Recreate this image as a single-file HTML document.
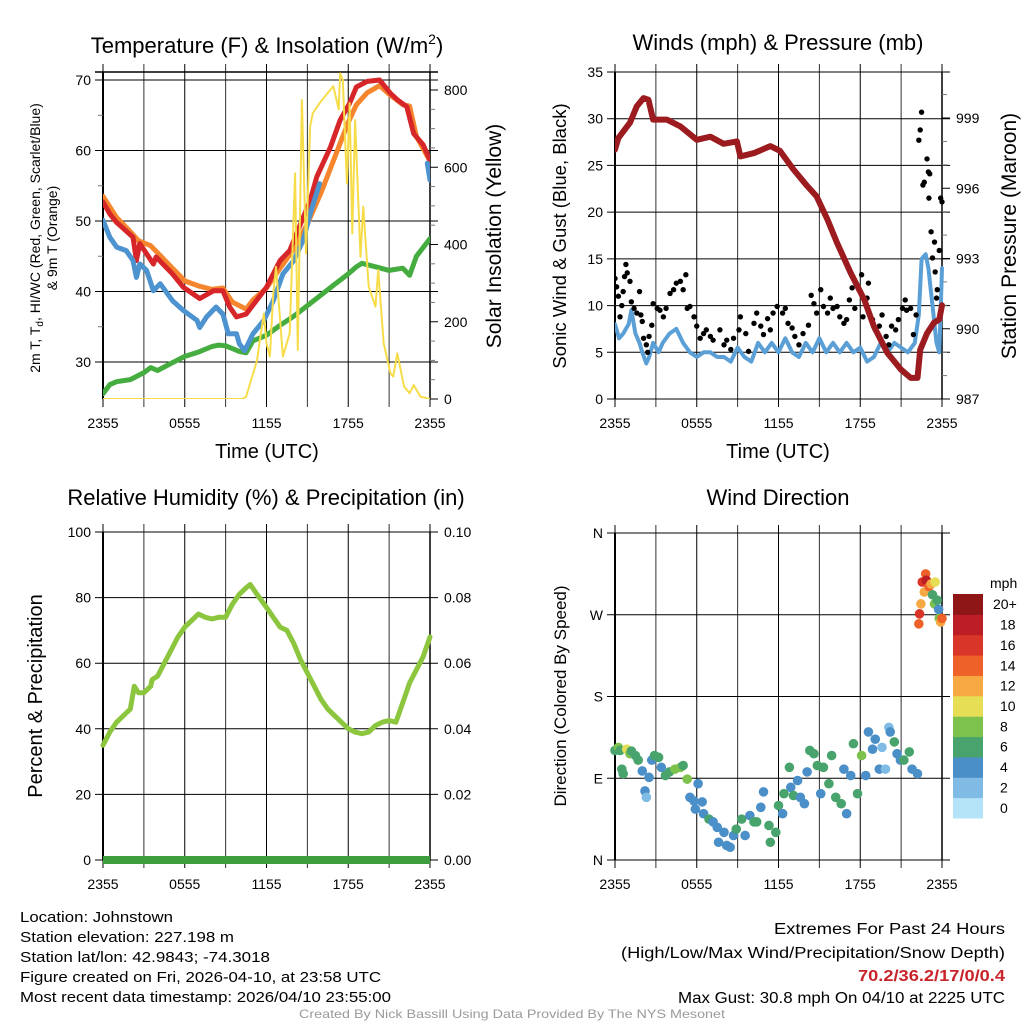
<!DOCTYPE html>
<html><head><meta charset="utf-8"><style>
html,body{margin:0;padding:0;background:#fff}
svg{display:block;font-family:"Liberation Sans",sans-serif}
</style></head><body>
<svg id="fig" width="1024" height="1024" viewBox="0 0 1024 1024">
<rect width="1024" height="1024" fill="#fff"/>
<text x="267" y="53" font-size="22" text-anchor="middle">Temperature (F) &amp; Insolation (W/m<tspan font-size="14" dy="-9">2</tspan><tspan dy="9">)</tspan></text>
<text x="778" y="50" font-size="22" text-anchor="middle">Winds (mph) &amp; Pressure (mb)</text>
<text x="266" y="505" font-size="22" text-anchor="middle">Relative Humidity (%) &amp; Precipitation (in)</text>
<text x="778" y="505" font-size="22" text-anchor="middle">Wind Direction</text>

<text transform="translate(40,238) rotate(-90)" font-size="14" text-anchor="middle">2m T, T<tspan font-size="10" dy="3">d</tspan><tspan dy="-3">, HI/WC (Red, Green, Scarlet/Blue)</tspan></text>
<text transform="translate(57,238) rotate(-90)" font-size="14" text-anchor="middle">&amp; 9m T (Orange)</text>
<text transform="translate(501,236) rotate(-90)" font-size="21" text-anchor="middle">Solar Insolation (Yellow)</text>
<text x="267" y="458" font-size="20" text-anchor="middle">Time (UTC)</text>
<text transform="translate(566,236) rotate(-90)" font-size="18.5" text-anchor="middle">Sonic Wind &amp; Gust (Blue, Black)</text>
<text transform="translate(1016,236) rotate(-90)" font-size="21" text-anchor="middle">Station Pressure (Maroon)</text>
<text x="778" y="458" font-size="20" text-anchor="middle">Time (UTC)</text>
<text transform="translate(42,696) rotate(-90)" font-size="20" text-anchor="middle">Percent &amp; Precipitation</text>
<text transform="translate(566,696) rotate(-90)" font-size="17" text-anchor="middle">Direction (Colored By Speed)</text>
<text x="990" y="588" font-size="14">mph</text>

<g font-size="15">
<text x="20" y="922" textLength="153" lengthAdjust="spacingAndGlyphs">Location: Johnstown</text>
<text x="20" y="942" textLength="214" lengthAdjust="spacingAndGlyphs">Station elevation: 227.198 m</text>
<text x="20" y="962" textLength="250" lengthAdjust="spacingAndGlyphs">Station lat/lon: 42.9843; -74.3018</text>
<text x="20" y="982" textLength="361" lengthAdjust="spacingAndGlyphs">Figure created on Fri, 2026-04-10, at 23:58 UTC</text>
<text x="20" y="1002" textLength="371" lengthAdjust="spacingAndGlyphs">Most recent data timestamp: 2026/04/10 23:55:00</text>
</g>
<g font-size="15.5" text-anchor="end">
<text x="1005" y="934" textLength="231" lengthAdjust="spacingAndGlyphs">Extremes For Past 24 Hours</text>
<text x="1005" y="958" textLength="384" lengthAdjust="spacingAndGlyphs">(High/Low/Max Wind/Precipitation/Snow Depth)</text>
<text x="1005" y="981" font-weight="bold" fill="#c8242a" textLength="147" lengthAdjust="spacingAndGlyphs">70.2/36.2/17/0/0.4</text>
<text x="1005" y="1003" textLength="327" lengthAdjust="spacingAndGlyphs">Max Gust: 30.8 mph On 04/10 at 2225 UTC</text>
</g>
<text x="512" y="1018" font-size="12" fill="#9a9a9a" text-anchor="middle" textLength="426" lengthAdjust="spacingAndGlyphs">Created By Nick Bassill Using Data Provided By The NYS Mesonet</text>
<g id="plots"></g>
</svg>
<script>
const timeTicks = ["2355","0555","1155","1755","2355"];
const tempTicks = [30,40,50,60,70];
const solarTicks = [0,200,400,600,800];
const windTicks = [0,5,10,15,20,25,30,35];
const presTicks = [987,990,993,996,999];
const rhTicks = [0,20,40,60,80,100];
const precipTickLabels = ["0.00","0.02","0.04","0.06","0.08","0.10"];
const dirTickLabels = ["N","E","S","W","N"];
const speedLabels = ["0","2","4","6","8","10","12","14","16","18","20+"];
const speedColors = ["#b5e4f8","#7fbbe4","#4a8fc8","#48a46c","#7cc24c","#e6df56","#f6a843","#ee6229","#da3529","#bd1d24","#8e1616"];

const tHours = [0,0.5,1,2.2,2.45,2.7,3.7,3.9,5.1,5.9,7.1,8.1,8.8,9.3,9.8,10.5,12,13,13.7,14.5,15.2,15.7,16.7,17.4,18.1,18.6,19.4,20.3,21.1,21.6,22.3,22.8,23.5,24];
const tempRed = [52.7,51,49.8,47.7,44.4,46.8,43.9,44.9,42.5,40.6,39,40.1,40.1,37.8,36.4,36.8,40.6,44.4,45.8,49.6,52.9,56.3,60.5,64.3,66.7,69,69.8,70,68.1,67.2,66.2,62.4,60.8,58.6];
const o9Hours = [0,1,2,2.6,3.5,4,5,6,7,8,8.8,9.5,10,10.5,11,12,13,14,15,16,17,18,18.6,19.4,20.3,21,22,22.5,23,24];
const temp9m = [53.5,50.5,48.5,47.2,46.5,45.5,43.5,41.5,40.8,40.3,40.5,38.5,38,37.5,38.8,40.5,43.3,46,49.6,54,59,64,66.5,68.2,69.2,68,66.5,66.3,62,58.5];
const wcHours = [0,0.5,1,1.7,2.2,2.45,2.7,3.2,3.7,4.2,5.1,5.9,6.9,7.1,7.6,8.3,8.8,9.2,9.8,10,10.4,11,11.8,12.5,13.2,14,14.7,15.2,15.9,16,23.7,23.8,24];
const windChill = [50.1,47.7,46.3,45.8,44.4,42,43.9,43,40.1,41.1,38.7,37.3,35.9,34.9,36.4,37.8,36.8,34,34,32.6,31.6,34,35.9,38.7,42.5,44.4,47.3,51,55.3,null,null,58.2,55.8];
const tdHours = [0,0.5,1,2,2.5,3,3.5,4,5,6,7,8,8.5,9,9.5,10,10.5,11,12,13,14,15,16,17,18,18.6,19,20,21,22,22.5,23,24];
const dewpoint = [25.5,26.8,27.2,27.5,28,28.5,29.2,28.8,29.8,30.8,31.4,32.2,32.4,32.3,31.9,31.5,31.3,33,33.8,35.2,36.5,38,39.5,41,42.5,43.5,44,43.5,43,43.3,42.3,45,47.5];
const solHours = [0,10.2,10.5,11.3,11.8,12,12.25,12.5,12.7,13.2,13.7,14.1,14.3,14.6,14.9,15.2,15.4,15.9,16.9,17.3,17.4,17.6,17.9,18.1,18.3,18.5,18.9,19.1,19.5,20,20.2,20.6,21.1,21.3,21.6,22.1,22.5,22.8,23.3,24];
const solar = [0,0,6,100,221,144,110,274,342,110,170,584,127,774,377,705,740,766,810,750,843,826,558,766,429,722,368,498,291,239,334,144,66,58,118,32,15,36,6,0];

const presHours = [0,0.25,1.1,1.6,2.1,2.45,2.8,3.8,4.8,6,7,7.97,8.95,9.2,10.2,11.4,12.1,13.1,14.1,14.8,15.6,16.3,17.3,18.3,19,20,21,21.7,22.2,22.4,22.9,23.4,23.8,24];
const pressure = [997.65,998.15,998.8,999.5,999.85,999.78,998.93,998.93,998.64,998.07,998.2,997.9,998,997.36,997.5,997.8,997.6,996.8,996.1,995.65,994.66,993.66,992.38,991.24,990.1,988.96,988.25,987.9,987.9,989.1,989.8,990.25,990.4,991];
const windHours = [0,0.3,0.6,1,1.2,1.5,1.8,2,2.3,2.5,2.8,3.2,3.5,4,4.5,5,5.5,6,6.5,7,7.5,8,8.5,9,9.5,10,10.5,11,11.5,12,12.5,13,13.5,14,14.5,15,15.5,16,16.5,17,17.5,18,18.5,19,19.5,20,20.5,21,21.5,22,22.3,22.5,22.8,23,23.3,23.6,23.8,24];
const windSpeed = [8,6.5,7,8,9.5,7,6,5,3.8,4.5,6,5,6,7,7.5,6,5,4.5,5,5,4.5,4.5,4,5.5,4.5,4,6,5,6,5,6.5,5,4.5,6,5,6.5,5,6,5,6,5,5.5,4,4.5,6,5,6,5.5,5,6,9,15,15.5,14,10,6,5,14];
const gustHours = [0,0.12,0.25,0.37,0.5,0.6,0.7,0.8,0.9,1.1,1.2,1.4,1.6,1.8,1.9,2,2.1,2.3,2.4,2.5,2.7,2.8,3.1,3.3,3.55,3.75,4.04,4.3,4.5,4.8,5,5.2,5.3,5.5,5.8,6,6.25,6.5,6.7,7,7.2,7.7,8,8.2,8.5,8.7,9.1,9.2,9.6,9.8,10.2,10.4,10.7,10.9,11.2,11.4,11.6,11.9,12.3,12.5,12.7,13,13.2,13.5,13.8,14.2,14.4,14.6,14.8,15.1,15.3,15.6,15.8,16,16.3,16.5,16.8,17,17.2,17.4,17.6,17.9,18.1,18.2,18.5,18.6,18.9,19.1,19.4,19.6,19.9,20.1,20.3,20.6,20.8,21.1,21.3,21.4,21.7,21.9,22.1,22.3,22.4,22.5,22.6,22.7,22.9,23,23.04,23.1,23.2,23.3,23.45,23.5,23.6,23.65,23.8,23.9,24];
const gustSpeed = [12.9,12,11,8.8,10,11.5,13.1,14.4,13.5,12.6,10.4,9.7,9.2,11.5,9,8.3,6.5,5.8,5,6.7,7.9,10.2,9.7,9.5,8.8,9.7,11.3,11.7,12.4,12.6,11.7,13.3,9.7,9.9,8.8,7.8,6.5,7,7.4,6.7,6.3,7.4,5.8,6.3,5.3,6.5,7.4,8.8,7,5.1,8.1,9.2,7.8,6.9,8.6,7.4,9.2,9.9,9.2,9.7,8.1,7.6,6.7,5.8,7,7.9,11.1,10.2,9.2,11.7,9.9,9.2,10.8,9.7,9.9,8.8,8.1,8.5,10.6,11.9,9.7,11.7,13.3,8.8,10.8,12.4,8.5,7.4,7.8,9,6.7,5.8,7.8,7.4,8.5,9.7,10.6,9.5,9.7,6.9,9,27.7,28.8,30.7,22.9,23.2,25.7,24.3,21.5,24.1,17.9,15.1,16.8,13.6,10.8,11.7,15.9,21.5,21.1];

const rhHours = [0,0.5,1,1.5,2,2.3,2.6,3,3.5,3.6,4,4.5,5,5.5,6,6.5,7,7.5,8,8.5,9,9.5,10,10.5,10.8,11.3,12,12.5,13,13.5,14,14.5,15,15.5,16,16.5,17,17.5,18,18.5,19,19.5,20,20.5,21,21.5,22,22.5,23,23.5,24];
const rhValues = [35,39,42,44,46,53,51,51,53,55,56,60,64,68,71,73,75,74,73.5,74,74,78,81,83,84,81,77,74,71,70,66,61,57,53,49,46,44,42,40,39,38.5,39,41,42,42.5,42,48,54,58,62,68];
const precipHours = [0,24];
const precipValues = [0,0];

const dirHours = [0,0.25,0.37,0.5,0.6,0.86,1.1,1.2,1.5,1.7,2,2.2,2.3,2.5,2.7,2.9,3.2,3.4,3.7,4,4.4,4.8,5,5.3,5.5,5.8,5.9,6.1,6.4,6.5,6.9,7.2,7.5,7.6,8,8.2,8.45,8.7,8.9,9.3,9.55,9.9,10.2,10.4,10.7,10.9,11.3,11.4,11.8,12,12.3,12.4,12.8,12.9,13.1,13.4,13.6,13.9,14.1,14.3,14.6,14.85,15.1,15.3,15.7,15.9,16.2,16.6,16.8,17,17.3,17.5,17.8,18.1,18.4,18.6,18.9,19.1,19.4,19.6,19.85,20.1,20.2,20.5,20.7,20.95,21.2,21.6,21.8,22.2,22.3,22.35,22.45,22.55,22.7,22.8,22.85,23.05,23.2,23.3,23.45,23.5,23.65,23.75,23.8,23.9,24];
const dirDegrees = [120.6,124,120.6,100,95,122,117,120,115,110,98,76,69,91,110,115,113,102,93,97,100,102,104,89,69,65,56,84,64,51,45,42,36,19.5,30.5,16,14,27,34,45,27,49,42,42,58,75,38,19.5,30.5,60,51,73,102,80,71,87.5,69,62,97,120.6,117,104,73,102,84,115,69,62,100,51,93,128,73,115,93,141,122,133,100,124,100,146,141,130,117,110,110,119,100,95,260,271,282,306,295,315,308,301,304,292,282,306,286,276,266,262,266];
const dirSpeed = [7,8.5,7,7,7,10.5,8.5,7,7,7,5,5,3,5,5,7,7,5,7,7,8.5,8.5,7,8.5,5,5,5,5,5,5,7,5,5,5,5,5,5,5,7,7,5,5,7,7,5,5,7,7,7,7,5,7,7,5,7,5,5,5,5,7,7,7,5,7,7,7,7,7,5,5,5,7,7,8.5,5,5,5,5,5,3,3,3,5,7,5,5,7,7,5,5,15,17,13,17,13,15,19,15,13,7,8.5,10.5,7,5,8.5,13,15];

const NS = "http://www.w3.org/2000/svg";
const root = document.getElementById("plots");
function mk(tag, attrs, parent){ const e=document.createElementNS(NS,tag); for(const k in attrs) e.setAttribute(k,attrs[k]); (parent||root).appendChild(e); return e; }
function lin(d0,d1,r0,r1){ return v => r0+(v-d0)*(r1-r0)/(d1-d0); }
function pathD(xs,ys,fx,fy){ let d="",pen=false; for(let i=0;i<xs.length;i++){ if(ys[i]==null){pen=false;continue;} d+=(pen?"L":"M")+fx(xs[i]).toFixed(1)+","+fy(ys[i]).toFixed(1); pen=true;} return d; }

function frame(name,L,R,T,B,fxh){
  const g=mk("g",{});
  
  
  for(let h=0;h<=24;h+=3){
    const x=fxh(h);
    const ln=mk("line",{x1:x,x2:x,y1:T-8,y2:B+8,stroke:(h%6==0?"#000":"#333"),"stroke-width":1},g);
    
    
  }
  timeTicks.forEach((lab,i)=>{
    const t=mk("text",{x:fxh(i*6),y:B+29,"font-size":14,"text-anchor":"middle"},g); t.textContent=lab;
    
    
  });
  mk("line",{x1:L,x2:L,y1:T,y2:B,stroke:"#000","stroke-width":2},g);
  mk("line",{x1:R,x2:R,y1:T,y2:B,stroke:"#000","stroke-width":1.5},g);
  return g;
}
function hgrid(g,ys,labels,L,R,side,size){
  ys.forEach((y,i)=>{
    const ln=mk("line",{x1:L-8,x2:R+8,y1:y,y2:y,stroke:"#000","stroke-width":1},g);
    
    
    const t=mk("text",{x:side=="l"?L-12:R+14,y:y+5,"font-size":size||14,"text-anchor":side=="l"?"end":"start"},g); t.textContent=labels[i];
    
    
  });
}
function minor(g,ys,x,dir){ ys.forEach(y=>mk("line",{x1:x,x2:x+dir*5,y1:y,y2:y,stroke:"#777","stroke-width":1},g)); }

// ---- Panel 1: Temperature
(function(){
  const L=103,R=430,T=72,B=399;
  const fx=lin(0,24,L,R), fy=lin(70,30,80,362), fs=lin(0,800,399,90);
  const g=frame("temperature",L,R,T,B,fx);
  mk("line",{x1:L-8,x2:R+8,y1:T,y2:T,stroke:"#000","stroke-width":1.5},g);
  hgrid(g,tempTicks.map(fy),tempTicks,L,R,"l",14);
  solarTicks.forEach(v=>{ const t=mk("text",{x:R+14,y:fs(v)+5,"font-size":14},g); t.textContent=v;
    
    
    mk("line",{x1:R,x2:R+8,y1:fs(v),y2:fs(v),stroke:"#000"},g); });
  minor(g,[35,45,55,65].map(fy),L,-1);
  minor(g,[50,100,150,250,300,350,450,500,550,650,700,750].map(fs),R,1);
  const clip=mk("clipPath",{id:"c1"}); mk("rect",{x:L,y:T,width:R-L,height:B-T},clip);
  const s=mk("g",{"clip-path":"url(#c1)","stroke-linejoin":"round","stroke-linecap":"round",fill:"none"});
  const p1=mk("path",{d:pathD(tdHours,dewpoint,fx,fy),stroke:"#45ad3f","stroke-width":5},s);
   
  const p2=mk("path",{d:pathD(o9Hours,temp9m,fx,fy),stroke:"#f5862e","stroke-width":5},s);
   
  const p3=mk("path",{d:pathD(tHours,tempRed,fx,fy),stroke:"#d7262a","stroke-width":5},s);
   
  const p4=mk("path",{d:pathD(wcHours,windChill,fx,fy),stroke:"#4c93cf","stroke-width":5},s);
   
  const p5=mk("path",{d:pathD(solHours,solar,fx,fs),stroke:"#f7dc4a","stroke-width":2},s);
   
})();

// ---- Panel 2: Winds & Pressure
(function(){
  const L=615,R=942,T=72,B=399;
  const fx=lin(0,24,L,R), fy=lin(0,35,399,72), fp=lin(987,999,399,118);
  const g=frame("winds",L,R,T,B,fx);
  hgrid(g,windTicks.map(fy),windTicks,L,R,"l",14);
  presTicks.forEach(v=>{ const t=mk("text",{x:R+14,y:fp(v)+5,"font-size":14},g); t.textContent=v;
    
    
    mk("line",{x1:R,x2:R+8,y1:fp(v),y2:fp(v),stroke:"#000"},g); });
  minor(g,[988,989,991,992,994,995,997,998,1000].map(fp),R,1);
  const clip=mk("clipPath",{id:"c2"}); mk("rect",{x:L,y:T,width:R-L+4,height:B-T},clip);
  const s=mk("g",{"clip-path":"url(#c2)","stroke-linejoin":"round","stroke-linecap":"round",fill:"none"});
  const w=mk("path",{d:pathD(windHours,windSpeed,fx,fy),stroke:"#5a9fd6","stroke-width":4},s);
   
  gustHours.forEach((h,i)=>{ const c=mk("circle",{cx:fx(h),cy:fy(gustSpeed[i]),r:2.7,fill:"#000"},s);
      });
  const p=mk("path",{d:pathD(presHours,pressure,fx,fp),stroke:"#9b1b1e","stroke-width":6},s);
   
})();

// ---- Panel 3: RH & Precip
(function(){
  const L=103,R=430,T=532,B=860;
  const fx=lin(0,24,L,R), fy=lin(0,100,860,532), fq=lin(0,0.1,860,532);
  const g=frame("humidity",L,R,T,B,fx);
  hgrid(g,rhTicks.map(fy),rhTicks,L,R,"l",14);
  precipTickLabels.forEach((lab,i)=>{ const t=mk("text",{x:R+14,y:fy(i*20)+5,"font-size":14},g); t.textContent=lab;
    
     });
  const s=mk("g",{"stroke-linejoin":"round","stroke-linecap":"round",fill:"none"});
  const r=mk("path",{d:pathD(rhHours,rhValues,fx,fy),stroke:"#8cc63f","stroke-width":5},s);
   
  const q=mk("path",{d:pathD(precipHours,precipValues,fx,fq),stroke:"#3e9e3e","stroke-width":8,"stroke-linecap":"butt"},s);
   
})();

// ---- Panel 4: Wind direction
(function(){
  const L=615,R=942,T=533,B=860;
  const fx=lin(0,24,L,R), fy=lin(0,360,860,533);
  const g=frame("direction",L,R,T,B,fx);
  hgrid(g,[0,90,180,270,360].map(fy),dirTickLabels,L,R,"l",14);
  function binColor(v){ return speedColors[Math.min(10,Math.floor(v/2))]; }
  dirHours.forEach((h,i)=>{ const c=mk("circle",{cx:fx(h),cy:fy(dirDegrees[i]),r:4.8,fill:binColor(dirSpeed[i])});
      });
  const cb=mk("g",{});
  
  
  const top=594, hgt=224/11;
  speedLabels.forEach((lab,i)=>{
    const y=top+(10-i)*hgt;
    const r=mk("rect",{x:953,y:y,width:30,height:hgt+0.5,fill:speedColors[i]},cb);
     
    const t=mk("text",{x:i==10?993:1000,y:y+hgt/2+5,"font-size":14},cb); t.textContent=lab;
     
  });
})();
</script>
</body></html>
